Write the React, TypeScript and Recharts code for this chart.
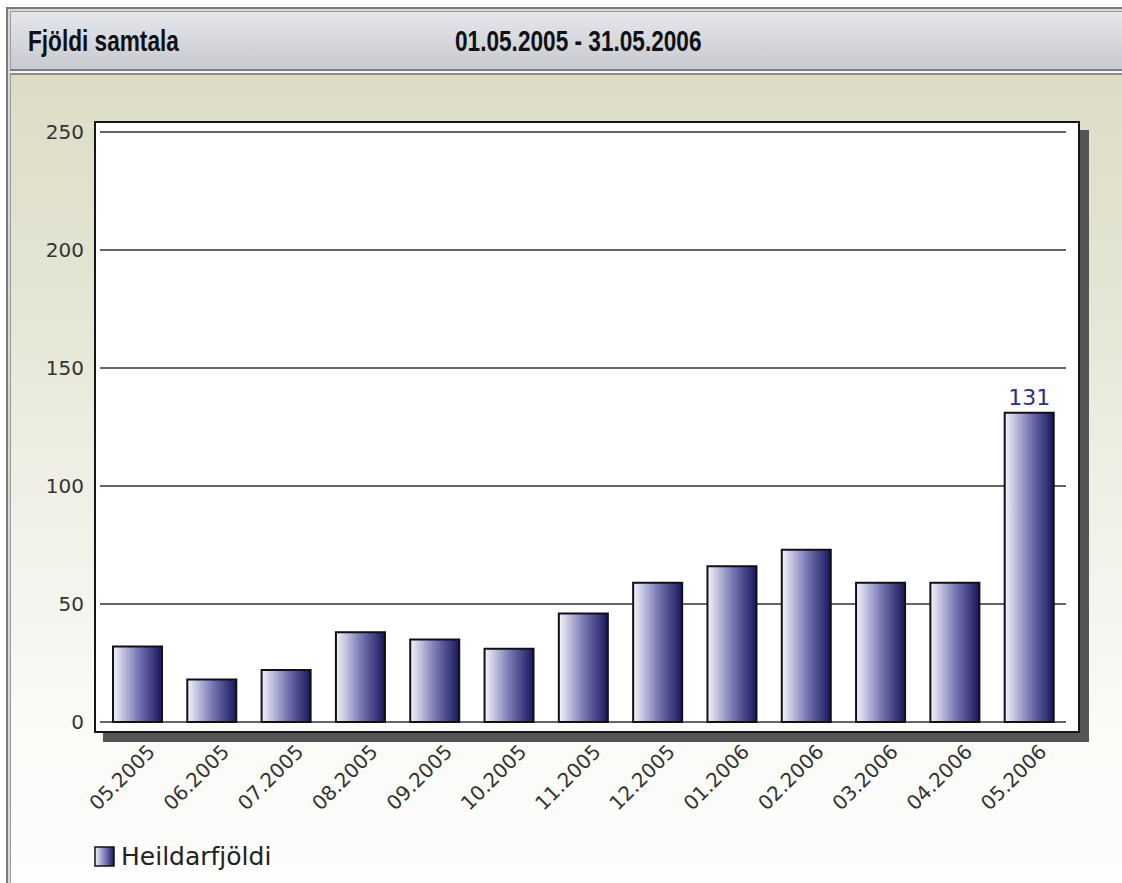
import React from 'react';
import { BarChart, Bar, XAxis, YAxis, CartesianGrid, Legend, LabelList } from 'recharts';

const months = [
  '05.2005', '06.2005', '07.2005', '08.2005', '09.2005', '10.2005', '11.2005',
  '12.2005', '01.2006', '02.2006', '03.2006', '04.2006', '05.2006',
];
const totals = [32, 18, 22, 38, 35, 31, 46, 59, 66, 73, 59, 59, 131];
const yTicks = [0, 50, 100, 150, 200, 250];
const seriesName = 'Heildarfjöldi';
const title = 'Fjöldi samtala';
const period = '01.05.2005 - 31.05.2006';

const data = months.map((m, i) => ({ month: m, total: totals[i] }));

const W = 1122;
const H = 883;

const MonthTick = (props: any) => {
  const { x, y, payload } = props;
  return (
    <g transform={`translate(${x + 19},${y + 25})`}>
      <text
        transform="rotate(-45)"
        textAnchor="end"
        fill="#333"
        fontSize={20}
        fontFamily="'DejaVu Sans', Verdana, sans-serif"
      >
        {payload.value}
      </text>
    </g>
  );
};

// only the last (peak) bar carries a value label
const PeakLabel = (props: any) => {
  const { x, y, width, value, index } = props;
  if (index !== data.length - 1) return null;
  return (
    <text
      x={x + width / 2}
      y={y - 8}
      textAnchor="middle"
      fill="#30307f"
      fontSize={22}
      fontFamily="'DejaVu Sans', Verdana, sans-serif"
    >
      {value}
    </text>
  );
};

const LegendBox = () => (
  <div style={{ display: 'flex', alignItems: 'center', fontFamily: "'DejaVu Sans', Verdana, sans-serif" }}>
    <svg width={22} height={22} style={{ marginRight: 5 }}>
      <defs>
        <linearGradient id="legGrad" x1="0" y1="0" x2="1" y2="0">
          <stop offset="0%" stopColor="#f2f2fa" />
          <stop offset="55%" stopColor="#7676b4" />
          <stop offset="100%" stopColor="#18185e" />
        </linearGradient>
      </defs>
      <rect x={1} y={1} width={19} height={19} fill="url(#legGrad)" stroke="#111" strokeWidth={1.5} />
    </svg>
    <span style={{ fontSize: 25, color: '#222' }}>{seriesName}</span>
  </div>
);

const headFont: React.CSSProperties = {
  position: 'absolute',
  fontFamily: "'Liberation Sans', Arial, sans-serif",
  fontWeight: 'bold',
  fontSize: 29,
  color: '#111',
  transform: 'scaleX(0.78)',
  transformOrigin: 'left center',
  whiteSpace: 'nowrap',
  lineHeight: '32px',
};

export default function App() {
  return (
    <div style={{ position: 'absolute', left: 0, top: 0, width: W, height: H, background: '#fff', overflow: 'hidden' }}>
      {/* window frame */}
      <div style={{ position: 'absolute', left: 6, top: 7, width: W - 6, height: H - 7, borderTop: '2px solid #7a7a7a', borderLeft: '2px solid #7a7a7a', boxSizing: 'border-box', background: '#d9d9d9' }} />
      {/* header bar */}
      <div style={{ position: 'absolute', left: 10, top: 11, width: W - 10, height: 58, borderTop: '1px solid #9a9a9a', borderLeft: '1px solid #9a9a9a', boxSizing: 'border-box', background: 'linear-gradient(to bottom, #e6e7ec 0%, #d6d8de 50%, #c8cad1 100%)' }}>
        <span style={{ ...headFont, left: 17, top: 13 }}>{title}</span>
        <span style={{ ...headFont, left: 444, top: 13 }}>{period}</span>
      </div>
      <div style={{ position: 'absolute', left: 10, top: 69, width: W - 10, height: 2, background: '#7e7e7e' }} />
      <div style={{ position: 'absolute', left: 10, top: 71, width: W - 10, height: 2, background: '#f4f4f4' }} />
      <div style={{ position: 'absolute', left: 10, top: 73, width: W - 10, height: 2, background: '#8c8c8c' }} />
      {/* content background */}
      <div style={{ position: 'absolute', left: 10, top: 75, width: W - 10, height: H - 75, borderLeft: '1px solid #9a9a9a', boxSizing: 'border-box', background: 'linear-gradient(to bottom, #dcdcc6 0%, #e4e4d3 25%, #f1f1e9 55%, #fafaf7 80%, #fdfdfc 100%)' }} />
      {/* plot frame with drop shadow */}
      <div style={{ position: 'absolute', left: 103, top: 130, width: 986, height: 612, background: '#555' }} />
      <div style={{ position: 'absolute', left: 94, top: 121, width: 986, height: 612, background: '#fff', border: '2px solid #161616', boxSizing: 'border-box' }} />

      <div style={{ position: 'absolute', left: 0, top: 0 }}>
        <BarChart
          width={W}
          height={H}
          data={data}
          margin={{ top: 132, right: 56, bottom: 10, left: 40 }}
        >
          <defs>
            <linearGradient id="barGrad" x1="0" y1="0" x2="1" y2="0">
              <stop offset="0%" stopColor="#f4f4fa" />
              <stop offset="50%" stopColor="#7a7ab6" />
              <stop offset="100%" stopColor="#16165c" />
            </linearGradient>
          </defs>
          <CartesianGrid horizontal vertical={false} stroke="#333" strokeWidth={1.5} />
          <XAxis
            dataKey="month"
            height={151}
            axisLine={false}
            tickLine={false}
            tickMargin={0}
            interval={0}
            tick={<MonthTick />}
          />
          <YAxis
            width={60}
            domain={[0, 250]}
            ticks={yTicks}
            axisLine={false}
            tickLine={false}
            tickMargin={10}
            tick={{ fill: '#333', fontSize: 20, fontFamily: "'DejaVu Sans', Verdana, sans-serif" }}
          />
          <Legend
            layout="horizontal"
            verticalAlign="middle"
            align="center"
            wrapperStyle={{ left: 94, top: 842, width: 'auto' }}
            content={<LegendBox />}
          />
          <Bar
            dataKey="total"
            name={seriesName}
            fill="url(#barGrad)"
            stroke="#111"
            strokeWidth={2}
            barSize={49}
            isAnimationActive={false}
          >
            <LabelList dataKey="total" content={<PeakLabel />} />
          </Bar>
        </BarChart>
      </div>
    </div>
  );
}
